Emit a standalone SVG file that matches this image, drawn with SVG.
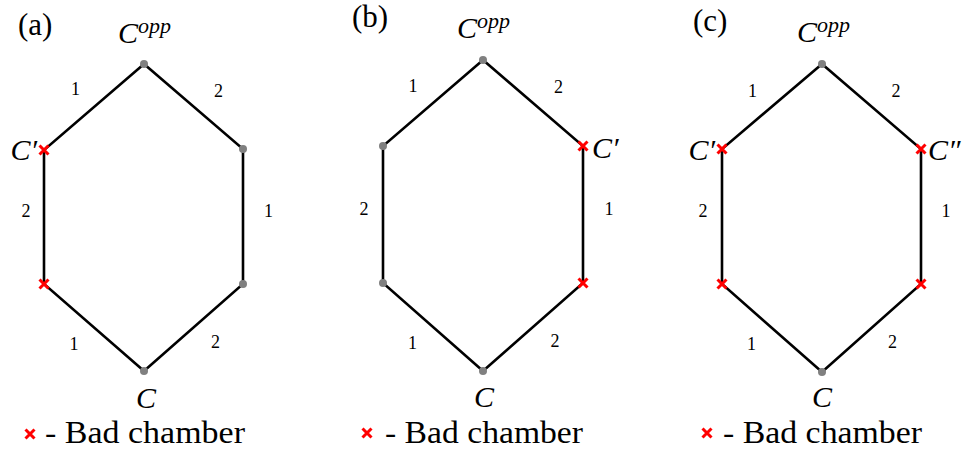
<svg xmlns="http://www.w3.org/2000/svg" xmlns:xlink="http://www.w3.org/1999/xlink" width="963" height="454" viewBox="0 0 963 454" font-family="Liberation Serif, serif">
<style>
.edge{stroke:#000;stroke-width:2.6;fill:none;stroke-linecap:round}
.dot{fill:#808080}
.bad{stroke:#ff0000;stroke-width:3;fill:none}
.it{font-style:italic;font-size:30px}
.sup{font-style:italic;font-size:22px}
.num{font-size:18px;text-anchor:middle}
.pl{font-size:31px}
.leg{font-size:32px}
.mid{text-anchor:middle}
.end{text-anchor:end}
</style>
<defs>
<g id="xm"><path class="bad" d="M-4.5,-4.5L4.5,4.5M-4.5,4.5L4.5,-4.5"/></g>
<circle id="dt" class="dot" r="4"/>
</defs>

<g id="connectors">
<path class="edge" d="M144,64 L44,150 L44,284 L144,371 L243,284 L243,149 Z"/>
<path class="edge" d="M483,60 L383,146 L383,283 L483,371 L583,283 L583,146 Z"/>
<path class="edge" d="M822,64 L722,149 L722,284 L822,372 L921,284 L921,149 Z"/>
</g>

<g id="edge-labels">
<text class="num" x="75.5" y="95">1</text>
<text class="num" x="218.5" y="97">2</text>
<text class="num" x="26" y="217">2</text>
<text class="num" x="268.5" y="217">1</text>
<text class="num" x="74" y="350">1</text>
<text class="num" x="215.5" y="348">2</text>

<text class="num" x="413" y="92">1</text>
<text class="num" x="558.5" y="93">2</text>
<text class="num" x="364" y="215">2</text>
<text class="num" x="609" y="215">1</text>
<text class="num" x="412.5" y="349">1</text>
<text class="num" x="555" y="347">2</text>

<text class="num" x="752.5" y="97">1</text>
<text class="num" x="896" y="97">2</text>
<text class="num" x="703" y="217">2</text>
<text class="num" x="946" y="217">1</text>
<text class="num" x="751.5" y="350">1</text>
<text class="num" x="892.5" y="348">2</text>
</g>

<g id="panel-a">
<text class="pl" x="18" y="35">(a)</text>
<g id="a-top"><use xlink:href="#dt" x="144" y="64"/><text class="it" x="118" y="43">C<tspan class="sup" dy="-10">opp</tspan></text></g>
<g id="a-ul"><use xlink:href="#xm" x="44" y="150"/><text class="it end" x="37" y="160">C′</text></g>
<g id="a-ur"><use xlink:href="#dt" x="243" y="149"/></g>
<g id="a-ll"><use xlink:href="#xm" x="44" y="284"/></g>
<g id="a-lr"><use xlink:href="#dt" x="243" y="284"/></g>
<g id="a-bot"><use xlink:href="#dt" x="144" y="371"/><text class="it mid" x="146" y="408">C</text></g>
<g id="a-legend"><use xlink:href="#xm" x="30" y="434"/><text class="leg" x="45" y="443" textLength="200" lengthAdjust="spacingAndGlyphs">- Bad chamber</text></g>
</g>

<g id="panel-b">
<text class="pl" x="352" y="27">(b)</text>
<g id="b-top"><use xlink:href="#dt" x="483" y="60"/><text class="it" x="457" y="38">C<tspan class="sup" dy="-10">opp</tspan></text></g>
<g id="b-ul"><use xlink:href="#dt" x="383" y="146"/></g>
<g id="b-ur"><use xlink:href="#xm" x="583" y="146"/><text class="it" x="592" y="158">C′</text></g>
<g id="b-ll"><use xlink:href="#dt" x="383" y="283"/></g>
<g id="b-lr"><use xlink:href="#xm" x="583" y="283"/></g>
<g id="b-bot"><use xlink:href="#dt" x="483" y="371"/><text class="it mid" x="484" y="407">C</text></g>
<g id="b-legend"><use xlink:href="#xm" x="367" y="433"/><text class="leg" x="385" y="443" textLength="198" lengthAdjust="spacingAndGlyphs">- Bad chamber</text></g>
</g>

<g id="panel-c">
<text class="pl" x="693" y="31">(c)</text>
<g id="c-top"><use xlink:href="#dt" x="822" y="64"/><text class="it" x="797" y="42">C<tspan class="sup" dy="-10">opp</tspan></text></g>
<g id="c-ul"><use xlink:href="#xm" x="722" y="149"/><text class="it end" x="715" y="160">C′</text></g>
<g id="c-ur"><use xlink:href="#xm" x="921" y="149"/><text class="it" x="928" y="160">C″</text></g>
<g id="c-ll"><use xlink:href="#xm" x="722" y="284"/></g>
<g id="c-lr"><use xlink:href="#xm" x="921" y="284"/></g>
<g id="c-bot"><use xlink:href="#dt" x="822" y="372"/><text class="it mid" x="822" y="407">C</text></g>
<g id="c-legend"><use xlink:href="#xm" x="707" y="433"/><text class="leg" x="723" y="443" textLength="199" lengthAdjust="spacingAndGlyphs">- Bad chamber</text></g>
</g>
</svg>
